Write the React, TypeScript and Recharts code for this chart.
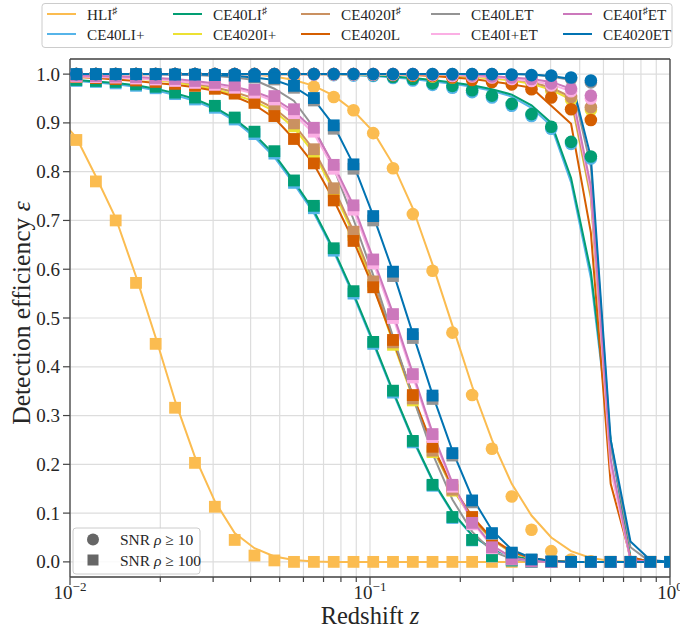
import React from "react";
import {
  ComposedChart,
  Line,
  Scatter,
  XAxis,
  YAxis,
  CartesianGrid,
  ReferenceLine,
} from "recharts";

const FONT = "'Liberation Serif', 'DejaVu Serif', 'DejaVu Sans', serif";
const INK = "#262626";
const FRAME = "#444444";

// redshifts of the simulated points (markers)
const MARK_Z = [
  0.0105, 0.0122, 0.0142, 0.0166, 0.0193, 0.0224, 0.0261, 0.0304, 0.0354, 0.0412,
  0.048, 0.0558, 0.065, 0.0757, 0.0881, 0.1025, 0.1193, 0.1389, 0.1616, 0.1882,
  0.219, 0.255, 0.2968, 0.3454, 0.402, 0.468, 0.5448, 0.6343, 0.7383, 0.8594, 1.0,
];
// the curves start one step below the axis limit
const CURVE_Z = [0.009, ...MARK_Z];

const X_TICKS = [
  0.01, 0.02, 0.03, 0.04, 0.05, 0.06, 0.07, 0.08, 0.09,
  0.1, 0.2, 0.3, 0.4, 0.5, 0.6, 0.7, 0.8, 0.9, 1,
];
const X_MAJOR: Record<number, string> = { 0.01: "\u22122", 0.1: "\u22121", 1: "0" };
const Y_TICKS = [0, 0.1, 0.2, 0.3, 0.4, 0.5, 0.6, 0.7, 0.8, 0.9, 1.0];

// HLI#
const hli10 = [1, 1, 1, 1, 1, 1, 1, 1, 1, 1, 0.997, 0.99, 0.974, 0.953, 0.926, 0.879, 0.807, 0.713, 0.597, 0.47, 0.342, 0.232, 0.134, 0.066, 0.022, 0.005, 0.001];
const hli100 = [0.865, 0.78, 0.7, 0.572, 0.447, 0.316, 0.203, 0.113, 0.045, 0.013, 0.003, 0, 0, 0, 0, 0, 0, 0, 0, 0, 0, 0, 0, 0, 0, 0, 0, 0, 0, 0, 0];
const hli10Curve = [1, 1, 1, 1, 1, 1, 1, 1, 1, 1, 0.999, 0.995, 0.988, 0.976, 0.956, 0.925, 0.882, 0.815, 0.725, 0.61, 0.485, 0.36, 0.25, 0.16, 0.095, 0.05, 0.022, 0.008, 0.002, 0, 0, 0];
const hli100Curve = [0.915, 0.87, 0.79, 0.705, 0.585, 0.46, 0.33, 0.215, 0.124, 0.059, 0.028, 0.011, 0.004, 0.001, 0, 0, 0, 0, 0, 0, 0, 0, 0, 0, 0, 0, 0, 0, 0, 0, 0, 0];

// CE40LI+
const lb10 = [0.999, 0.999, 0.999, 0.999, 0.999, 0.999, 0.999, 0.999, 0.999, 0.999, 0.999, 0.999, 0.999, 0.998, 0.997, 0.996, 0.992, 0.987, 0.978, 0.972, 0.963, 0.952, 0.935, 0.914, 0.888, 0.857, 0.827];
const lb100 = [0.986, 0.984, 0.981, 0.976, 0.971, 0.959, 0.948, 0.931, 0.907, 0.877, 0.837, 0.777, 0.725, 0.638, 0.55, 0.447, 0.347, 0.245, 0.156, 0.09, 0.044, 0.011, 0.003, 0, 0, 0, 0, 0, 0, 0, 0];
const lb10Curve = [0.999, 0.999, 0.999, 0.999, 0.999, 0.999, 0.999, 0.999, 0.999, 0.999, 0.999, 0.999, 0.999, 0.999, 0.999, 0.998, 0.996, 0.993, 0.99, 0.985, 0.98, 0.974, 0.966, 0.954, 0.931, 0.894, 0.778, 0.582, 0.24, 0.01, 0, 0];
const lb100Curve = [0.988, 0.986, 0.983, 0.979, 0.974, 0.967, 0.957, 0.945, 0.928, 0.904, 0.871, 0.83, 0.775, 0.715, 0.636, 0.546, 0.448, 0.347, 0.25, 0.166, 0.1, 0.054, 0.026, 0.011, 0.005, 0.002, 0, 0, 0, 0, 0, 0];

// CE40LI#
const gr10 = [1, 1, 1, 1, 1, 1, 1, 1, 1, 1, 1, 1, 1, 0.999, 0.999, 0.998, 0.994, 0.99, 0.981, 0.976, 0.967, 0.956, 0.939, 0.918, 0.892, 0.861, 0.831];
const gr100 = [0.988, 0.986, 0.984, 0.979, 0.974, 0.962, 0.952, 0.935, 0.911, 0.882, 0.842, 0.782, 0.73, 0.643, 0.555, 0.451, 0.351, 0.248, 0.158, 0.092, 0.045, 0.012, 0.003, 0, 0, 0, 0, 0, 0, 0, 0];
const gr10Curve = [1, 1, 1, 1, 1, 1, 1, 1, 1, 1, 1, 1, 1, 1, 0.999, 0.998, 0.997, 0.995, 0.992, 0.988, 0.983, 0.977, 0.969, 0.958, 0.936, 0.9, 0.787, 0.595, 0.25, 0.008, 0, 0];
const gr100Curve = [0.99, 0.988, 0.985, 0.982, 0.977, 0.97, 0.961, 0.949, 0.932, 0.908, 0.876, 0.835, 0.78, 0.72, 0.64, 0.55, 0.452, 0.35, 0.253, 0.168, 0.102, 0.055, 0.027, 0.012, 0.005, 0.002, 0, 0, 0, 0, 0, 0];

// CE4020I+
const ye10 = [0.999, 0.999, 0.999, 0.999, 0.999, 0.999, 0.999, 0.999, 0.999, 0.999, 0.999, 0.999, 0.999, 0.999, 0.999, 0.999, 0.999, 0.997, 0.995, 0.993, 0.99, 0.988, 0.985, 0.98, 0.966, 0.948, 0.927];
const ye100 = [0.995, 0.994, 0.993, 0.991, 0.988, 0.984, 0.979, 0.971, 0.962, 0.95, 0.93, 0.893, 0.839, 0.759, 0.67, 0.568, 0.445, 0.331, 0.225, 0.146, 0.083, 0.039, 0.012, 0.003, 0, 0, 0, 0, 0, 0, 0];
const ye10Curve = [0.999, 0.999, 0.999, 0.999, 0.999, 0.999, 0.999, 0.999, 0.999, 0.999, 0.999, 0.999, 0.999, 0.999, 0.999, 0.999, 0.999, 0.999, 0.999, 0.999, 0.996, 0.994, 0.991, 0.987, 0.98, 0.968, 0.948, 0.745, 0.195, 0.005, 0, 0];
const ye100Curve = [0.996, 0.995, 0.994, 0.993, 0.991, 0.988, 0.983, 0.977, 0.969, 0.958, 0.944, 0.924, 0.89, 0.838, 0.76, 0.671, 0.568, 0.45, 0.336, 0.232, 0.15, 0.088, 0.045, 0.019, 0.007, 0.002, 0, 0, 0, 0, 0, 0];

// CE4020I#
const tan10 = [1, 1, 1, 1, 1, 1, 1, 1, 1, 1, 1, 1, 1, 1, 1, 1, 1, 0.999, 0.998, 0.996, 0.994, 0.992, 0.99, 0.985, 0.971, 0.953, 0.932];
const tan100 = [0.997, 0.996, 0.995, 0.993, 0.99, 0.987, 0.982, 0.975, 0.966, 0.955, 0.936, 0.899, 0.846, 0.766, 0.677, 0.575, 0.45, 0.335, 0.228, 0.148, 0.085, 0.04, 0.013, 0.003, 0, 0, 0, 0, 0, 0, 0];
const tan10Curve = [1, 1, 1, 1, 1, 1, 1, 1, 1, 1, 1, 1, 1, 1, 1, 1, 1, 1, 1, 1, 0.998, 0.996, 0.994, 0.99, 0.984, 0.972, 0.953, 0.75, 0.2, 0.005, 0, 0];
const tan100Curve = [0.998, 0.997, 0.996, 0.995, 0.993, 0.99, 0.986, 0.98, 0.973, 0.963, 0.95, 0.93, 0.897, 0.845, 0.767, 0.678, 0.575, 0.455, 0.34, 0.235, 0.152, 0.09, 0.046, 0.02, 0.007, 0.002, 0, 0, 0, 0, 0, 0];

// CE4020L
const or10 = [1, 1, 1, 1, 1, 1, 1, 1, 1, 1, 1, 1, 1, 1, 1, 0.999, 0.998, 0.997, 0.996, 0.993, 0.988, 0.984, 0.979, 0.969, 0.952, 0.928, 0.906];
const or100 = [0.994, 0.992, 0.99, 0.987, 0.984, 0.98, 0.976, 0.97, 0.96, 0.941, 0.914, 0.867, 0.817, 0.741, 0.658, 0.563, 0.455, 0.342, 0.236, 0.155, 0.092, 0.042, 0.015, 0.004, 0, 0, 0, 0, 0, 0, 0];
const or10Curve = [1, 1, 1, 1, 1, 1, 1, 1, 1, 1, 1, 1, 1, 1, 1, 1, 1, 1, 0.998, 0.996, 0.993, 0.99, 0.985, 0.979, 0.972, 0.935, 0.898, 0.675, 0.16, 0.01, 0, 0];
const or100Curve = [0.995, 0.994, 0.992, 0.989, 0.986, 0.982, 0.978, 0.973, 0.966, 0.954, 0.937, 0.91, 0.867, 0.815, 0.742, 0.658, 0.563, 0.455, 0.342, 0.238, 0.155, 0.093, 0.048, 0.021, 0.008, 0.002, 0, 0, 0, 0, 0, 0];

// CE40LET
const gy10 = [1, 1, 1, 1, 1, 1, 1, 1, 1, 1, 1, 1, 1, 1, 1, 1, 1, 1, 1, 1, 1, 1, 0.998, 0.997, 0.995, 0.99, 0.983];
const gy100 = [1, 1, 1, 1, 1, 0.999, 0.998, 0.997, 0.996, 0.993, 0.989, 0.972, 0.946, 0.888, 0.806, 0.7, 0.586, 0.459, 0.334, 0.218, 0.122, 0.057, 0.018, 0.004, 0, 0, 0, 0, 0, 0, 0];
const gy10Curve = [1, 1, 1, 1, 1, 1, 1, 1, 1, 1, 1, 1, 1, 1, 1, 1, 1, 1, 1, 1, 1, 1, 1, 1, 0.999, 0.995, 0.988, 0.81, 0.24, 0.03, 0, 0];
const gy100Curve = [1, 1, 1, 1, 1, 1, 0.999, 0.998, 0.996, 0.993, 0.988, 0.97, 0.945, 0.89, 0.808, 0.702, 0.588, 0.462, 0.338, 0.222, 0.128, 0.062, 0.022, 0.006, 0.001, 0, 0, 0, 0, 0, 0, 0];

// CE40I+ET
const lp10 = [0.999, 0.999, 0.999, 0.999, 0.999, 0.999, 0.999, 0.999, 0.999, 0.999, 0.999, 0.999, 0.999, 0.999, 0.999, 0.999, 0.999, 0.999, 0.998, 0.996, 0.995, 0.993, 0.99, 0.986, 0.977, 0.965, 0.95];
const lp100 = [0.995, 0.994, 0.993, 0.991, 0.989, 0.986, 0.982, 0.978, 0.972, 0.962, 0.948, 0.92, 0.882, 0.806, 0.722, 0.612, 0.5, 0.378, 0.256, 0.154, 0.077, 0.028, 0.005, 0.001, 0, 0, 0, 0, 0, 0, 0];
const lp10Curve = [0.999, 0.999, 0.999, 0.999, 0.999, 0.999, 0.999, 0.999, 0.999, 0.999, 0.999, 0.999, 0.999, 0.999, 0.999, 0.999, 0.999, 0.999, 0.999, 0.999, 0.999, 0.996, 0.994, 0.99, 0.986, 0.979, 0.965, 0.76, 0.19, 0.003, 0, 0];
const lp100Curve = [0.996, 0.995, 0.994, 0.993, 0.991, 0.989, 0.986, 0.982, 0.977, 0.97, 0.96, 0.944, 0.918, 0.878, 0.806, 0.722, 0.614, 0.502, 0.38, 0.26, 0.158, 0.082, 0.032, 0.008, 0.002, 0, 0, 0, 0, 0, 0, 0];

// CE40I#ET
const pk10 = [1, 1, 1, 1, 1, 1, 1, 1, 1, 1, 1, 1, 1, 1, 1, 1, 1, 1, 0.999, 0.998, 0.997, 0.995, 0.993, 0.99, 0.981, 0.97, 0.956];
const pk100 = [0.997, 0.996, 0.995, 0.994, 0.992, 0.99, 0.986, 0.982, 0.977, 0.968, 0.955, 0.928, 0.89, 0.814, 0.731, 0.62, 0.508, 0.385, 0.262, 0.158, 0.08, 0.03, 0.006, 0.001, 0, 0, 0, 0, 0, 0, 0];
const pk10Curve = [1, 1, 1, 1, 1, 1, 1, 1, 1, 1, 1, 1, 1, 1, 1, 1, 1, 1, 1, 1, 1, 0.998, 0.996, 0.993, 0.99, 0.984, 0.97, 0.77, 0.21, 0.004, 0, 0];
const pk100Curve = [0.998, 0.997, 0.996, 0.995, 0.994, 0.992, 0.99, 0.986, 0.981, 0.974, 0.964, 0.949, 0.924, 0.886, 0.814, 0.731, 0.622, 0.51, 0.387, 0.265, 0.162, 0.085, 0.034, 0.009, 0.002, 0, 0, 0, 0, 0, 0, 0];

// CE4020ET
const bl10 = [1, 1, 1, 1, 1, 1, 1, 1, 1, 1, 1, 1, 1, 1, 1, 1, 1, 1, 1, 1, 1, 1, 0.999, 0.998, 0.997, 0.993, 0.987];
const bl100 = [1, 1, 1, 1, 1, 0.999, 0.999, 0.998, 0.997, 0.995, 0.992, 0.976, 0.951, 0.895, 0.815, 0.709, 0.595, 0.467, 0.341, 0.223, 0.126, 0.059, 0.019, 0.005, 0.001, 0, 0, 0, 0, 0, 0];
const bl10Curve = [1, 1, 1, 1, 1, 1, 1, 1, 1, 1, 1, 1, 1, 1, 1, 1, 1, 1, 1, 1, 1, 1, 1, 1, 0.999, 0.996, 0.99, 0.83, 0.25, 0.042, 0.004, 0];
const bl100Curve = [1, 1, 1, 1, 1, 1, 0.999, 0.999, 0.998, 0.996, 0.993, 0.988, 0.974, 0.948, 0.895, 0.815, 0.71, 0.595, 0.468, 0.343, 0.228, 0.132, 0.065, 0.025, 0.008, 0.002, 0, 0, 0, 0, 0, 0];

type Detector = {
  key: string;
  label: [string, string, string];
  color: string;
  snr10: number[];
  snr100: number[];
  curve10: number[];
  curve100: number[];
};

// plotting order (same as the legend, column by column)
const DETECTORS: Detector[] = [
  { key: "hli", label: ["HLI", "\u266F", ""], color: "#fbbc50", snr10: hli10, snr100: hli100, curve10: hli10Curve, curve100: hli100Curve },
  { key: "ce40liplus", label: ["CE40LI+", "", ""], color: "#56b4e9", snr10: lb10, snr100: lb100, curve10: lb10Curve, curve100: lb100Curve },
  { key: "ce40li", label: ["CE40LI", "\u266F", ""], color: "#029e73", snr10: gr10, snr100: gr100, curve10: gr10Curve, curve100: gr100Curve },
  { key: "ce4020iplus", label: ["CE4020I+", "", ""], color: "#ece133", snr10: ye10, snr100: ye100, curve10: ye10Curve, curve100: ye100Curve },
  { key: "ce4020i", label: ["CE4020I", "\u266F", ""], color: "#ca9161", snr10: tan10, snr100: tan100, curve10: tan10Curve, curve100: tan100Curve },
  { key: "ce4020l", label: ["CE4020L", "", ""], color: "#d55e00", snr10: or10, snr100: or100, curve10: or10Curve, curve100: or100Curve },
  { key: "ce40let", label: ["CE40LET", "", ""], color: "#949494", snr10: gy10, snr100: gy100, curve10: gy10Curve, curve100: gy100Curve },
  { key: "ce40iplus", label: ["CE40I+ET", "", ""], color: "#fbafe4", snr10: lp10, snr100: lp100, curve10: lp10Curve, curve100: lp100Curve },
  { key: "ce40iet", label: ["CE40I", "\u266F", "ET"], color: "#cc78bc", snr10: pk10, snr100: pk100, curve10: pk10Curve, curve100: pk100Curve },
  { key: "ce4020et", label: ["CE4020ET", "", ""], color: "#0173b2", snr10: bl10, snr100: bl100, curve10: bl10Curve, curve100: bl100Curve },
];

const toPoints = (zs: number[], es: number[]) => es.map((e, i) => ({ z: zs[i], e }));

const circleShape = (color: string) => (p: any) =>
  <circle cx={p.cx} cy={p.cy} r={6.3} fill={color} />;
const squareShape = (color: string) => (p: any) =>
  <rect x={p.cx - 5.9} y={p.cy - 5.9} width={11.8} height={11.8} fill={color} />;

function XTick(props: any) {
  const { x, y, payload } = props;
  const exp = X_MAJOR[payload.value];
  return (
    <g>
      <line x1={x} x2={x} y1={y} y2={y + (exp ? 8 : 5)} stroke={FRAME} strokeWidth={1.2} />
      {exp && (
        <text x={x} y={y + 21.5} textAnchor="middle" fontFamily={FONT} fontSize={19} fill={INK}>
          10<tspan dy={-8} fontSize={13}>{exp}</tspan>
        </text>
      )}
    </g>
  );
}

function YTick(props: any) {
  const { x, y, payload } = props;
  return (
    <g>
      <line x1={x - 7} x2={x} y1={y} y2={y} stroke={FRAME} strokeWidth={1.2} />
      <text x={x - 10} y={y + 6.5} textAnchor="end" fontFamily={FONT} fontSize={19} fill={INK}>
        {payload.value.toFixed(1)}
      </text>
    </g>
  );
}

function Name({ label }: { label: [string, string, string] }) {
  return (
    <>
      {label[0]}
      {label[1] && <tspan dy={-6} fontSize={10}>{label[1]}</tspan>}
      {label[2] && <tspan dy={6}>{label[2]}</tspan>}
    </>
  );
}

const LEGEND_COLS = [47, 173, 301, 431, 563];
const LEGEND_ROWS = [14, 34];

function Overlay() {
  return (
    <svg width={680} height={631} style={{ position: "absolute", left: 0, top: 0, pointerEvents: "none" }}>
      <rect x={42} y={3.5} width={630} height={44} rx={3} fill="#fff" fillOpacity={0.85} stroke="#cccccc" />
      {DETECTORS.map((d, i) => {
        const x = LEGEND_COLS[Math.floor(i / 2)];
        const y = LEGEND_ROWS[i % 2];
        return (
          <g key={d.key}>
            <line x1={x} x2={x + 29} y1={y} y2={y} stroke={d.color} strokeWidth={2} />
            <text x={x + 40} y={y + 5.5} fontFamily={FONT} fontSize={15.2} fill={INK}>
              <Name label={d.label} />
            </text>
          </g>
        );
      })}

      <rect x={73} y={528} width={127} height={46} rx={3} fill="#fff" fillOpacity={0.85} stroke="#cccccc" />
      <circle cx={93} cy={539.5} r={6} fill="#666666" />
      <rect x={87.5} y={554.5} width={11} height={11} fill="#666666" />
      <text x={120} y={545} fontFamily={FONT} fontSize={15.5} fill={INK}>
        SNR <tspan fontStyle="italic">{"\u03C1"}</tspan> {"\u2265"} 10
      </text>
      <text x={120} y={565.5} fontFamily={FONT} fontSize={15.5} fill={INK}>
        SNR <tspan fontStyle="italic">{"\u03C1"}</tspan> {"\u2265"} 100
      </text>

      <text x={370} y={624} textAnchor="middle" fontFamily={FONT} fontSize={24.5} fill={INK}>
        Redshift <tspan fontStyle="italic">z</tspan>
      </text>
      <text
        x={0}
        y={0}
        transform="translate(30 313) rotate(-90)"
        textAnchor="middle"
        fontFamily={FONT}
        fontSize={25.5}
        fill={INK}
      >
        Detection efficiency <tspan fontStyle="italic">{"\u03B5"}</tspan>
      </text>
    </svg>
  );
}

export default function App() {
  return (
    <div style={{ position: "absolute", left: 0, top: 0, width: 680, height: 631, background: "#fff" }}>
      <ComposedChart width={680} height={631} margin={{ top: 59, right: 10, bottom: 4, left: 10 }}>
        <CartesianGrid stroke="#dddddd" strokeWidth={1.2} />
        <XAxis
          dataKey="z"
          type="number"
          scale="log"
          domain={[0.01, 1]}
          allowDataOverflow
          ticks={X_TICKS}
          interval={0}
          tick={<XTick />}
          tickLine={false}
          tickSize={0}
          tickMargin={0}
          height={50}
          axisLine={{ stroke: FRAME, strokeWidth: 1.3 }}
        />
        <YAxis
          dataKey="e"
          type="number"
          domain={[-0.031, 1.031]}
          allowDataOverflow
          ticks={Y_TICKS}
          interval={0}
          tick={<YTick />}
          tickLine={false}
          tickSize={0}
          tickMargin={0}
          width={60}
          axisLine={{ stroke: FRAME, strokeWidth: 1.3 }}
        />
        <ReferenceLine y={1.031} stroke={FRAME} strokeWidth={1.3} />
        <ReferenceLine x={1} stroke={FRAME} strokeWidth={1.3} />
        {DETECTORS.flatMap((d) => [
          <Line
            key={d.key + "-c10"}
            data={toPoints(CURVE_Z, d.curve10)}
            dataKey="e"
            type="linear"
            stroke={d.color}
            strokeWidth={2}
            dot={false}
            activeDot={false}
            isAnimationActive={false}
          />,
          <Line
            key={d.key + "-c100"}
            data={toPoints(CURVE_Z, d.curve100)}
            dataKey="e"
            type="linear"
            stroke={d.color}
            strokeWidth={2}
            dot={false}
            activeDot={false}
            isAnimationActive={false}
          />,
          <Scatter
            key={d.key + "-s10"}
            data={toPoints(MARK_Z, d.snr10)}
            dataKey="e"
            shape={circleShape(d.color)}
            isAnimationActive={false}
          />,
          <Scatter
            key={d.key + "-s100"}
            data={toPoints(MARK_Z, d.snr100)}
            dataKey="e"
            shape={squareShape(d.color)}
            isAnimationActive={false}
          />,
        ])}
      </ComposedChart>
      <Overlay />
    </div>
  );
}
